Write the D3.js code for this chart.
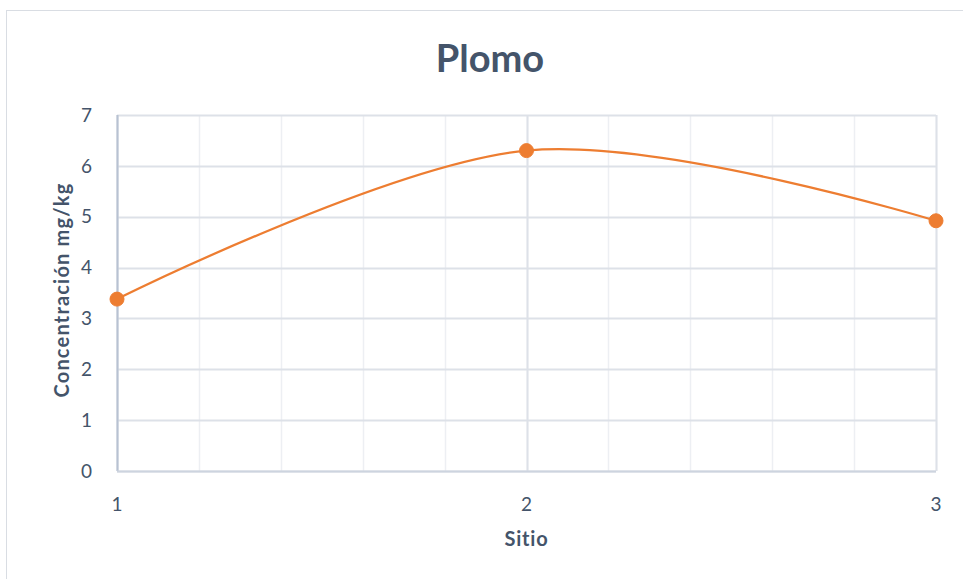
<!DOCTYPE html>
<html><head><meta charset="utf-8">
<script src="https://cdn.jsdelivr.net/npm/d3@7"></script>
<style>body{margin:0;background:#fff}svg{display:block}</style>
</head><body>
<script>
const sites = [1, 2, 3];
const values = [3.38, 6.3, 4.92];
const yTicks = [0, 1, 2, 3, 4, 5, 6, 7];
const xTicks = [1, 2, 3];
const title = "Plomo";
const xTitle = "Sitio";
const yTitle = "Concentración mg/kg";

const W = 963, H = 579;
const svg = d3.select("body").append("svg").attr("width", W).attr("height", H);
const font = "Lato, 'Open Sans', sans-serif";
const textColor = "#44546A";

svg.append("rect").attr("x", 6.5).attr("y", 10.5).attr("width", W - 6).attr("height", H - 10)
  .attr("fill", "#fff").attr("stroke", "#D9DDE3").attr("stroke-width", 1);

const x = d3.scaleLinear().domain([1, 3]).range([117, 936]);
const y = d3.scaleLinear().domain([0, 7]).range([471, 115]);

const g = svg.append("g");
const minor = d3.range(1, 3.0001, 0.2);
g.selectAll(".minor").data(minor).enter().append("line")
  .attr("x1", d => Math.round(x(d)) + 0.5).attr("x2", d => Math.round(x(d)) + 0.5)
  .attr("y1", y(7)).attr("y2", y(0))
  .attr("stroke", "#EDEFF3").attr("stroke-width", 1.5);
g.selectAll(".vmaj").data(xTicks).enter().append("line")
  .attr("x1", d => Math.round(x(d)) + 0.5).attr("x2", d => Math.round(x(d)) + 0.5)
  .attr("y1", y(7)).attr("y2", y(0))
  .attr("stroke", "#DDE1E8").attr("stroke-width", 2);
g.selectAll(".hgrid").data(yTicks).enter().append("line")
  .attr("x1", x(1)).attr("x2", x(3))
  .attr("y1", d => Math.round(y(d)) + 0.5).attr("y2", d => Math.round(y(d)) + 0.5)
  .attr("stroke", "#DDE1E8").attr("stroke-width", 2);
g.append("line").attr("x1", x(1) + 0.5).attr("x2", x(1) + 0.5).attr("y1", y(7)).attr("y2", y(0))
  .attr("stroke", "#B8C2D2").attr("stroke-width", 2);
g.append("line").attr("x1", x(1)).attr("x2", x(3)).attr("y1", y(0) + 0.5).attr("y2", y(0) + 0.5)
  .attr("stroke", "#CDD4DF").attr("stroke-width", 2);

svg.selectAll(".yl").data(yTicks).enter().append("text")
  .attr("x", 92).attr("y", d => y(d)).attr("dy", "0.35em")
  .attr("text-anchor", "end").attr("font-family", font).attr("font-size", 19)
  .attr("fill", textColor).text(d => d);
svg.selectAll(".xl").data(xTicks).enter().append("text")
  .attr("x", d => x(d)).attr("y", 511)
  .attr("text-anchor", "middle").attr("font-family", font).attr("font-size", 19)
  .attr("fill", textColor).text(d => d);

svg.append("text").attr("x", 490).attr("y", 72).attr("text-anchor", "middle")
  .attr("font-family", font).attr("font-weight", "bold").attr("font-size", 38)
  .attr("fill", textColor).text(title);
svg.append("text").attr("x", x(2)).attr("y", 546).attr("text-anchor", "middle")
  .attr("font-family", font).attr("font-weight", "bold").attr("font-size", 20)
  .attr("letter-spacing", 0.8)
  .attr("fill", textColor).text(xTitle);
svg.append("text").attr("transform", "translate(69,290) rotate(-90)").attr("text-anchor", "middle")
  .attr("font-family", font).attr("font-weight", "bold").attr("font-size", 20)
  .attr("letter-spacing", 1.2)
  .attr("fill", textColor).text(yTitle);

const data = sites.map((s, i) => ({ s, v: values[i] }));
const line = d3.line().x(d => x(d.s)).y(d => y(d.v)).curve(d3.curveCardinal.tension(0));
svg.append("path").datum(data).attr("d", line)
  .attr("fill", "none").attr("stroke", "#ED7D31").attr("stroke-width", 2.25);
svg.selectAll(".pt").data(data).enter().append("circle")
  .attr("cx", d => x(d.s)).attr("cy", d => y(d.v)).attr("r", 7)
  .attr("fill", "#ED7D31").attr("stroke", "#ED7D31").attr("stroke-width", 1);
</script>
</body></html>
